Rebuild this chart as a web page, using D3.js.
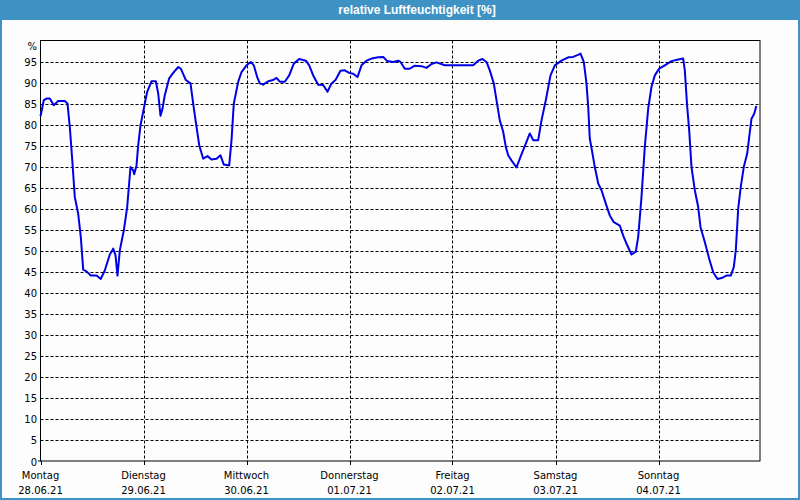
<!DOCTYPE html>
<html><head><meta charset="utf-8">
<script src="https://cdn.jsdelivr.net/npm/d3@7"></script>
<style>
html,body{margin:0;padding:0;background:#fcfdfc;}
svg{display:block;}
text{font-family:"DejaVu Sans",sans-serif;font-size:10px;fill:#000;}
</style></head>
<body>
<svg id="c" width="800" height="500"></svg>
<script>
const title = "relative Luftfeuchtigkeit [%]";
const dayNames = ["Montag","Dienstag","Mittwoch","Donnerstag","Freitag","Samstag","Sonntag"];
const dayDates = ["28.06.21","29.06.21","30.06.21","01.07.21","02.07.21","03.07.21","04.07.21"];
const yTicks = [0,5,10,15,20,25,30,35,40,45,50,55,60,65,70,75,80,85,90,95];
const yUnit = "%";
// hours since Monday 00:00
const hours = [0,0.77,1.40,2.17,3.10,4.12,5.66,6.29,6.83,7.46,7.99,8.78,9.39,9.95,10.72,11.72,13.05,14.05,14.98,16.15,16.94,17.48,17.94,18.48,19.41,20.20,20.97,21.60,21.83,22.37,22.77,23.30,24.07,24.86,25.86,26.87,27.43,27.96,28.43,28.96,29.99,30.92,32.09,32.69,33.86,34.95,35.58,36.19,36.98,37.91,38.91,39.84,41.01,41.94,42.71,43.97,44.51,45.04,46.07,46.84,48.00,49.00,49.70,50.49,51.10,51.89,53.06,54.22,54.99,55.76,56.92,57.95,59.02,60.28,61.82,62.61,63.54,64.71,65.87,66.87,67.81,68.74,69.90,70.91,71.93,72.86,73.86,74.80,75.96,77.13,78.69,79.85,80.79,82.18,83.35,83.88,84.89,86.05,87.22,88.78,89.94,91.11,92.27,94.21,100.82,101.99,102.99,103.92,104.69,105.62,106.25,107.02,107.81,108.42,108.97,109.74,110.91,111.84,113.08,114.01,114.80,115.97,116.74,117.74,118.84,119.84,121.40,122.96,124.12,125.52,125.83,126.59,127.22,127.62,127.99,128.62,129.16,129.95,130.72,131.72,132.65,133.58,134.98,135.77,136.71,137.71,138.71,139.27,140.04,140.81,141.60,142.37,143.14,144.17,145.47,147.03,148.59,149.75,150.13,150.69,151.15,151.69,152.46,153.25,153.79,154.79,155.81,156.74,157.75,158.68,159.84,160.85,161.54,162.01,162.57,163.17,163.87,164.67,165.14,165.67,166.30,166.79];
const humidity = [82,85.8,86.2,86.2,84.6,85.6,85.6,85,79.4,70.7,62.8,58.8,53.3,45.5,45.1,44.1,44.1,43.3,45.3,49.1,50.5,48.9,44.1,50.1,54.8,60.4,69.9,69.1,68.2,70.3,75.1,79.8,83.8,87.8,90.3,90.3,87.4,82.1,83.8,87,91,92.3,93.7,93.3,90.6,89.8,85,80.6,75.1,71.9,72.5,71.7,71.9,72.7,70.5,70.3,76.3,85,90.2,92.5,94.1,94.9,94.1,91.3,89.8,89.5,90.3,90.6,91.1,90.2,90.2,91.7,94.5,95.6,95.2,94.1,91.7,89.5,89.4,87.8,89.8,90.6,92.8,92.9,92.3,92.1,91.3,94.1,95.2,95.7,96,96.1,95.1,94.9,95.2,94.9,93.3,93.3,94,93.9,93.5,94.4,94.8,94.1,94.1,95.2,95.6,94.9,92.9,89.8,85.8,81,78.3,74.7,72.7,71.5,69.8,72.3,75.5,77.9,76.3,76.3,81,85.8,91.7,94.1,95.2,96,96.1,96.7,96.9,94.9,89.8,84.2,76.7,73.1,69.9,66,64.4,61.2,58.4,56.8,56,53.6,51.3,49.1,49.8,53.3,62.8,74.7,83.8,89,91.7,93.3,94.1,95.1,95.5,95.7,92.9,84.2,78.7,69.9,64.4,60.4,55.6,52.1,48.1,44.9,43.3,43.5,44.1,44.1,46.1,50.1,60,65.2,69.9,73.1,77.1,81.4,82.6,84.4];

const svg = d3.select("#c");
const W = 800, H = 500;
const L = 40.5, R = 760, T = 40.5, B = 461;

// frame + header
svg.append("rect").attr("x",0).attr("y",0).attr("width",W).attr("height",H).attr("fill","#fcfdfc");
svg.append("rect").attr("x",0).attr("y",0).attr("width",W).attr("height",20).attr("fill","#3e92c4");
svg.append("rect").attr("x",1).attr("y",1).attr("width",W-2).attr("height",H-2)
  .attr("fill","none").attr("stroke","#3e92c4").attr("stroke-width",2);
svg.append("text").attr("x",417).attr("y",14).attr("text-anchor","middle")
  .style("font-family","'Liberation Sans',Arial,sans-serif").style("font-size","12px")
  .style("font-weight","bold").style("fill","#fff").text(title);

const x = d3.scaleLinear().domain([0,168]).range([40.5,761.5]);
const y = d3.scaleLinear().domain([0,100]).range([B,T]);

// horizontal grid
const g = svg.append("g");
g.selectAll("line.h").data(yTicks.filter(v=>v>0)).join("line")
  .attr("x1",L).attr("x2",R).attr("y1",d=>Math.round(y(d))+0.5).attr("y2",d=>Math.round(y(d))+0.5)
  .attr("stroke","#000").attr("stroke-width",1).attr("stroke-dasharray","3,2");
// vertical grid
const dayIdx = d3.range(dayNames.length);
g.selectAll("line.v").data(dayIdx.slice(1)).join("line")
  .attr("x1",d=>Math.round(x(d*24))+0.5).attr("x2",d=>Math.round(x(d*24))+0.5).attr("y1",T).attr("y2",B)
  .attr("stroke","#000").attr("stroke-width",1).attr("stroke-dasharray","3,2");

// y axis labels
svg.append("g").selectAll("text").data(yTicks).join("text")
  .attr("x",37).attr("y",d=>y(d)+4.5).attr("text-anchor","end").text(d=>d);
svg.append("text").attr("x",37).attr("y",50).attr("text-anchor","end").text(yUnit);

// x axis ticks and labels
svg.append("g").selectAll("line").data(dayIdx).join("line")
  .attr("x1",d=>Math.round(x(d*24))+0.5).attr("x2",d=>Math.round(x(d*24))+0.5)
  .attr("y1",B).attr("y2",B+4).attr("stroke","#000");
const xl = svg.append("g");
xl.selectAll("text.n").data(dayIdx).join("text").attr("class","n")
  .attr("x",d=>x(d*24)).attr("y",479).attr("text-anchor","middle").text(d=>dayNames[d]);
xl.selectAll("text.d").data(dayIdx).join("text").attr("class","d")
  .attr("x",d=>x(d*24)).attr("y",493.5).attr("text-anchor","middle").text(d=>dayDates[d]);

// plot border
svg.append("rect").attr("x",L).attr("y",T).attr("width",R-L).attr("height",B-T)
  .attr("fill","none").attr("stroke","#000").attr("stroke-width",1);
svg.append("line").attr("x1",38).attr("x2",L).attr("y1",B).attr("y2",B).attr("stroke","#000");

// data line
const pts = hours.map((h,i)=>[h,humidity[i]]);
svg.append("path").datum(pts)
  .attr("d",d3.line().x(d=>x(d[0])).y(d=>y(d[1])))
  .attr("fill","none").attr("stroke","#0000e6").attr("stroke-width",2).attr("stroke-linejoin","round");
</script>
</body></html>
